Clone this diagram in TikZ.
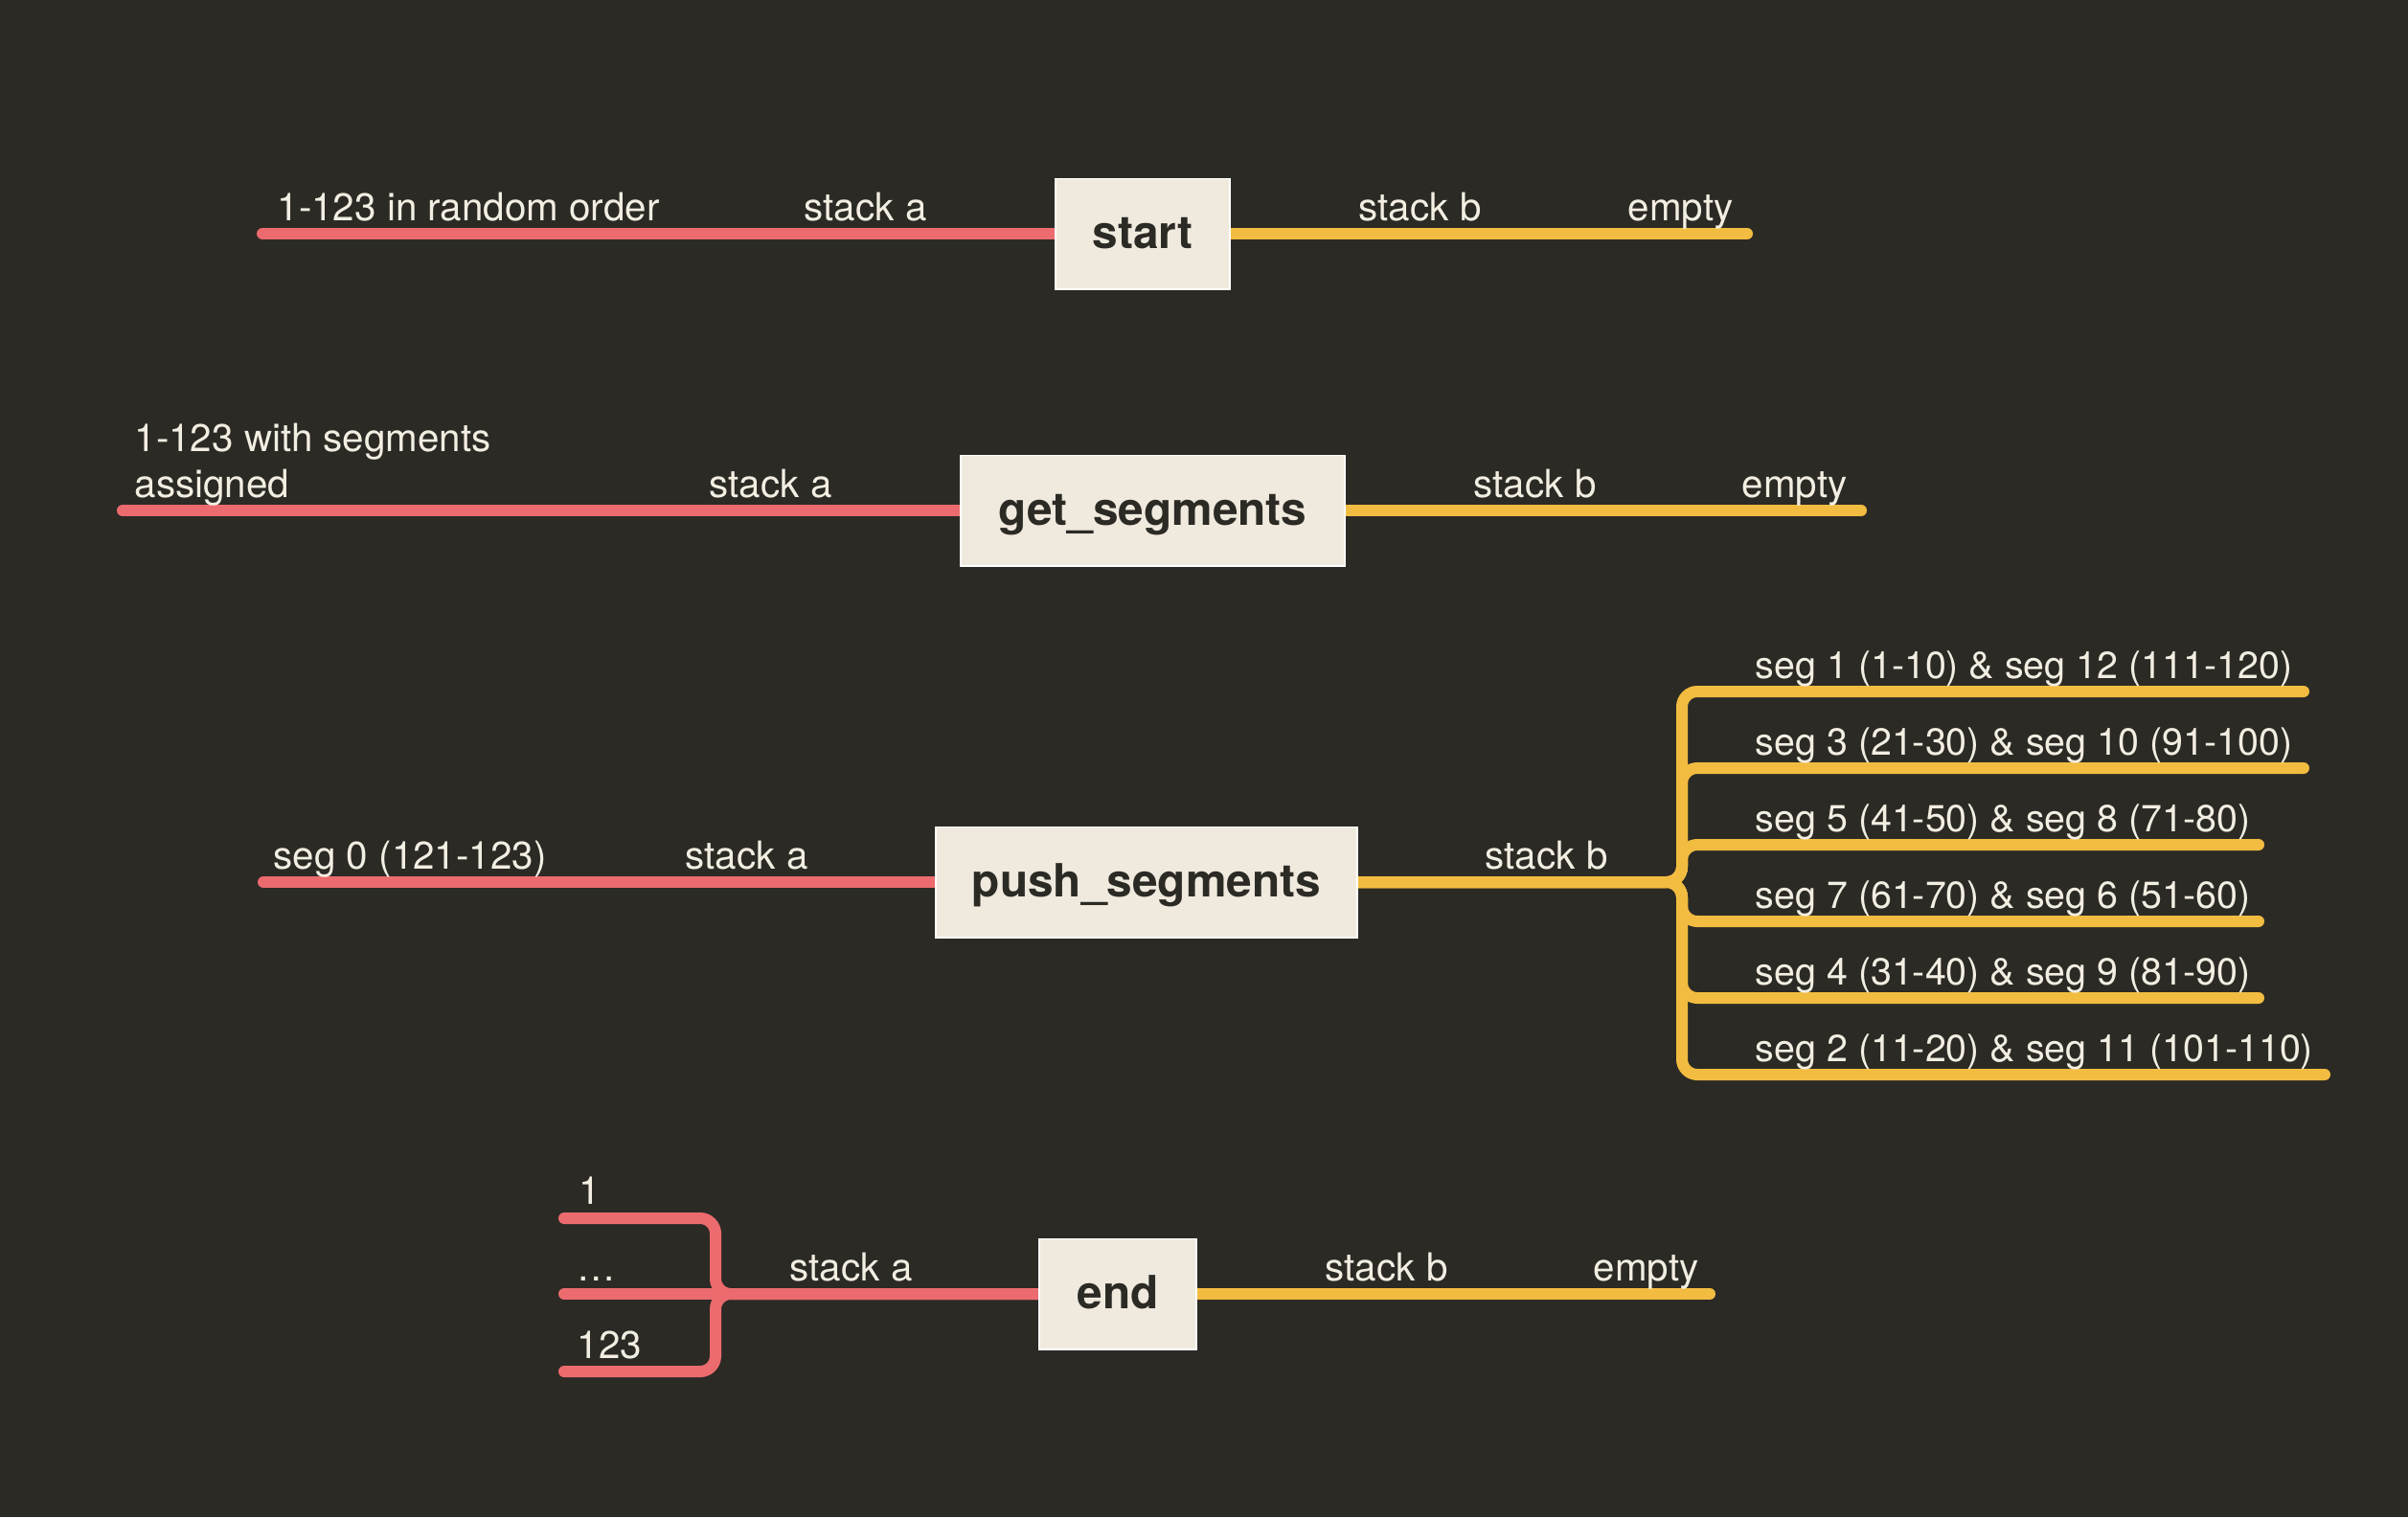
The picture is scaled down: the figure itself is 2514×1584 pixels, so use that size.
\documentclass[tikz,border=0pt]{standalone}
\usepackage{fontspec}
\setmainfont{TeX Gyre Heros}
\definecolor{bgc}{HTML}{2C2A25}
\definecolor{redc}{HTML}{EC6B6E}
\definecolor{yelc}{HTML}{F2BC41}
\definecolor{boxc}{HTML}{F0EADE}
\definecolor{txt}{HTML}{F3EEE2}
\pgfdeclarelayer{bg}
\pgfdeclarelayer{lines}
\pgfsetlayers{bg,lines,main}
\begin{document}
\begin{tikzpicture}[x=0.01cm,y=-0.01cm,
  lbl/.style={anchor=base west, inner sep=0pt, text=txt, align=left, font=\fontsize{11.47}{13.4}\selectfont},
  seglbl/.style={lbl, font=\fontsize{11.2}{13.4}\selectfont},
  topic/.style={fill=boxc, draw=white, line width=0.55pt, inner sep=0pt, text=bgc, font=\fontsize{13.6}{16}\selectfont\bfseries, minimum height=1.15cm, text height=0.36cm, text depth=0.05cm},
  redl/.style={draw=redc, line width=0.12cm, line cap=round, rounded corners=0.16cm},
  yell/.style={draw=yelc, line width=0.12cm, line cap=round, rounded corners=0.16cm}]
\begin{pgfonlayer}{bg}
\fill[bgc] (0,0) rectangle (2514,1584);
\end{pgfonlayer}
\useasboundingbox (0,0) rectangle (2514,1584);

% topics
\node[topic, minimum width=1.82cm] (start) at (1193,244) {start};
\node[topic, minimum width=4.01cm] (gets) at (1203.5,533) {get\_segments};
\node[topic, minimum width=4.40cm] (push) at (1197,921) {push\_segments};
\node[topic, minimum width=1.64cm] (end) at (1167,1351) {end};

% free ends
\coordinate (a1) at (274,244);
\coordinate (b1) at (1824,244);
\coordinate (a2) at (128,533);
\coordinate (b2) at (1943,533);
\coordinate (a3) at (275,921);
\coordinate (j3) at (1756,921);
\coordinate (s1) at (2405,722);
\coordinate (s2) at (2405,802);
\coordinate (s3) at (2358,882);
\coordinate (s4) at (2358,962);
\coordinate (s5) at (2358,1042);
\coordinate (s6) at (2427,1122);
\coordinate (e1) at (589,1272);
\coordinate (e2) at (589,1351);
\coordinate (e3) at (589,1432);
\coordinate (j4) at (747,1351);
\coordinate (b4) at (1785,1351);

\begin{pgfonlayer}{lines}
\draw[redl] (start.west) -- (a1);
\draw[yell] (start.east) -- (b1);
\draw[redl] (gets.west) -- (a2);
\draw[yell] (gets.east) -- (b2);
\draw[redl] (push.west) -- (a3);
\draw[yell] (push.east) -- (j3) |- (s1);
\draw[yell] (push.east) -- (j3) |- (s2);
\draw[yell] (push.east) -- (j3) |- (s3);
\draw[yell] (push.east) -- (j3) |- (s4);
\draw[yell] (push.east) -- (j3) |- (s5);
\draw[yell] (push.east) -- (j3) |- (s6);
\draw[redl] (end.west) -- (j4) |- (e1);
\draw[redl] (end.west) -- (e2);
\draw[redl] (end.west) -- (j4) |- (e3);
\draw[yell] (end.east) -- (b4);
\end{pgfonlayer}

% labels row 1
\node[lbl] (l1a) at (289,230) {1-123 in random order};
\node[lbl] (l1b) at (839,230) {stack a};
\node[lbl] (l1c) at (1418,230) {stack b};
\node[lbl] (l1d) at (1699,230) {empty};
% row 2
\node[lbl] (l2a) at (140,519) {1-123 with segments\\assigned};
\node[lbl] (l2b) at (740,519) {stack a};
\node[lbl] (l2c) at (1538,519) {stack b};
\node[lbl] (l2d) at (1818,519) {empty};
% row 3
\node[lbl] (l3a) at (285,907) {seg 0 (121-123)};
\node[lbl] (l3b) at (715,907) {stack a};
\node[lbl] (l3c) at (1550,907) {stack b};
\node[seglbl] (g1) at (1832,708) {seg 1 (1-10) \& seg 12 (111-120)};
\node[seglbl] (g2) at (1832,788) {seg 3 (21-30) \& seg 10 (91-100)};
\node[seglbl] (g3) at (1832,868) {seg 5 (41-50) \& seg 8 (71-80)};
\node[seglbl] (g4) at (1832,948) {seg 7 (61-70) \& seg 6 (51-60)};
\node[seglbl] (g5) at (1832,1028) {seg 4 (31-40) \& seg 9 (81-90)};
\node[seglbl] (g6) at (1832,1108) {seg 2 (11-20) \& seg 11 (101-110)};
% row 4
\node[lbl] (l4a) at (604,1257) {1};
\node[lbl] (l4b) at (602,1337) {…};
\node[lbl] (l4c) at (602,1418) {123};
\node[lbl] (l4d) at (824,1337) {stack a};
\node[lbl] (l4e) at (1383,1337) {stack b};
\node[lbl] (l4f) at (1663,1337) {empty};
\end{tikzpicture}
\end{document}
